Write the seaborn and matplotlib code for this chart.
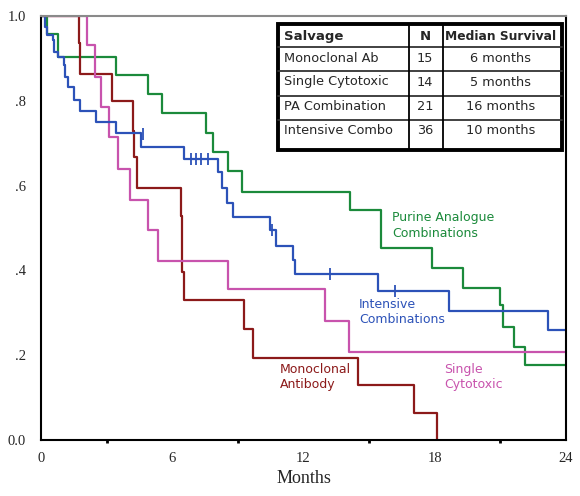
import pandas as pd
import seaborn as sns
import matplotlib.pyplot as plt
from matplotlib.patches import Rectangle

# survival curves (months, survival after each drop)
pa_months = [0, 0.27, 0.78, 3.44, 4.89, 5.53, 7.53, 7.85, 8.55, 9.19, 14.13, 15.54,
             17.87, 19.29, 20.98, 21.12, 21.62, 22.13, 24]
pa_surv = [1.0, 0.958, 0.903, 0.861, 0.816, 0.771, 0.724, 0.679, 0.634, 0.585, 0.542,
           0.453, 0.406, 0.358, 0.318, 0.267, 0.219, 0.177, 0.177]

mab_months = [0, 1.72, 1.80, 3.24, 4.19, 4.27, 4.37, 6.39, 6.45, 6.55, 9.28, 9.69,
              14.49, 17.05, 18.1]
mab_surv = [1.0, 0.936, 0.863, 0.800, 0.729, 0.667, 0.594, 0.528, 0.396, 0.330,
            0.262, 0.193, 0.130, 0.064, 0.0]

single_months = [0, 2.11, 2.48, 2.75, 3.09, 3.51, 4.07, 4.89, 5.35, 8.55, 12.98, 14.1, 24]
single_surv = [1.0, 0.932, 0.857, 0.785, 0.715, 0.639, 0.566, 0.495, 0.422, 0.356,
               0.281, 0.208, 0.208]

int_months = [0, 0.2, 0.27, 0.55, 0.59, 0.78, 1.05, 1.08, 1.23, 1.49, 1.80, 2.53, 3.44,
              4.57, 6.55, 8.11, 8.26, 8.49, 8.76, 10.47, 10.73, 11.53, 11.61, 15.39,
              18.66, 23.19, 24]
int_surv = [1.0, 0.975, 0.955, 0.943, 0.916, 0.904, 0.884, 0.857, 0.833, 0.802, 0.777,
            0.751, 0.725, 0.692, 0.662, 0.633, 0.594, 0.558, 0.525, 0.495, 0.458,
            0.425, 0.391, 0.351, 0.305, 0.259, 0.259]

# censored patients on the intensive curve
cens_months = [4.65, 6.86, 7.09, 7.31, 7.62, 10.55, 13.2, 16.16]
cens_surv = [0.722, 0.662, 0.662, 0.662, 0.662, 0.495, 0.391, 0.351]

# table
salvage = ["Monoclonal Ab", "Single Cytotoxic", "PA Combination", "Intensive Combo"]
n_pat = ["15", "14", "21", "36"]
median = ["6 months", "5 months", "16 months", "10 months"]

colors = {"pa": "#1b8a3b", "mab": "#8c1a1a", "single": "#c853ad", "int": "#2c52b8"}

frames = []
for key, m, s in [("pa", pa_months, pa_surv), ("mab", mab_months, mab_surv),
                  ("single", single_months, single_surv), ("int", int_months, int_surv)]:
    frames.append(pd.DataFrame({"month": m, "surv": s, "group": key}))
df = pd.concat(frames, ignore_index=True)

sns.set_style("white")
plt.rcParams["font.family"] = ["DejaVu Sans"]

fig = plt.figure(figsize=(5.8, 4.96), dpi=100)
ax = fig.add_axes([41 / 580, 56 / 496, 525 / 580, 424 / 496])

sns.lineplot(data=df, x="month", y="surv", hue="group", palette=colors,
             estimator=None, sort=False, drawstyle="steps-post", linewidth=1.6,
             legend=False, ax=ax)
ax.plot(cens_months, cens_surv, "|", color=colors["int"], ms=8, mew=1.3)

ax.set_xlim(0, 24)
ax.set_ylim(0, 1.0)
ax.set_xticks([0, 6, 12, 18, 24])
ax.set_xticks([3, 9, 15, 21], minor=True)
ax.set_yticks([0, 0.2, 0.4, 0.6, 0.8, 1.0])
serif = "Liberation Serif"
ax.set_xticklabels(["0", "6", "12", "18", "24"], fontfamily=serif, fontsize=10.5)
ax.set_yticklabels(["0.0", ".2", ".4", ".6", ".8", "1.0"], fontfamily=serif, fontsize=10.5)
ax.tick_params(which="major", direction="out", length=3, width=3, color="black")
ax.tick_params(axis="x", which="major", pad=6)
ax.tick_params(axis="y", which="major", pad=8)
ax.tick_params(axis="x", which="minor", bottom=True, direction="out", length=2,
               width=2, color="black")
ax.set_xlabel("Months", fontfamily=serif, fontsize=13, labelpad=3)
ax.set_ylabel("")

for side in ["left", "bottom", "right"]:
    ax.spines[side].set_color("black")
    ax.spines[side].set_linewidth(1.5)
ax.spines["top"].set_color("#8a8a8a")
ax.spines["top"].set_linewidth(1.5)

lab_kw = dict(fontsize=9, va="center", ha="left", linespacing=1.25)
ax.text(16.05, 0.506, "Purine Analogue\nCombinations", color=colors["pa"], **lab_kw)
ax.text(14.54, 0.302, "Intensive\nCombinations", color=colors["int"], **lab_kw)
ax.text(10.93, 0.149, "Monoclonal\nAntibody", color=colors["mab"], **lab_kw)
ax.text(18.42, 0.149, "Single\nCytotoxic", color=colors["single"], **lab_kw)

# table drawn on an overlay in pixel coordinates
ov = fig.add_axes([0, 0, 1, 1])
ov.set_xlim(0, 580)
ov.set_ylim(496, 0)
ov.axis("off")
ov.add_patch(Rectangle((277.5, 23.5), 284, 126, facecolor="white",
                       edgecolor="black", linewidth=2.8, zorder=3))
for yy in [47.3, 70.7, 96, 120]:
    ov.plot([277.5, 561.5], [yy, yy], color="#333333", lw=1.3, zorder=4)
for xx in [409.3, 442.7]:
    ov.plot([xx, xx], [23.5, 149.5], color="black", lw=1.3, zorder=4)

ov.text(284, 36.5, "Salvage", fontsize=9.5, fontweight="bold", va="center", zorder=5)
ov.text(425, 36.5, "N", fontsize=9.5, fontweight="bold", va="center", ha="center", zorder=5)
ov.text(501, 36.5, "Median Survival", fontsize=8.8, fontweight="bold", va="center",
        ha="center", zorder=5)
row_y = [58.5, 82, 107, 130]
for i in range(len(salvage)):
    ov.text(284, row_y[i], salvage[i], fontsize=9.3, va="center", zorder=5)
    ov.text(425, row_y[i], n_pat[i], fontsize=9.3, va="center", ha="center", zorder=5)
    ov.text(501, row_y[i], median[i], fontsize=9.3, va="center", ha="center", zorder=5)

fig.savefig("out.png", dpi=100)
